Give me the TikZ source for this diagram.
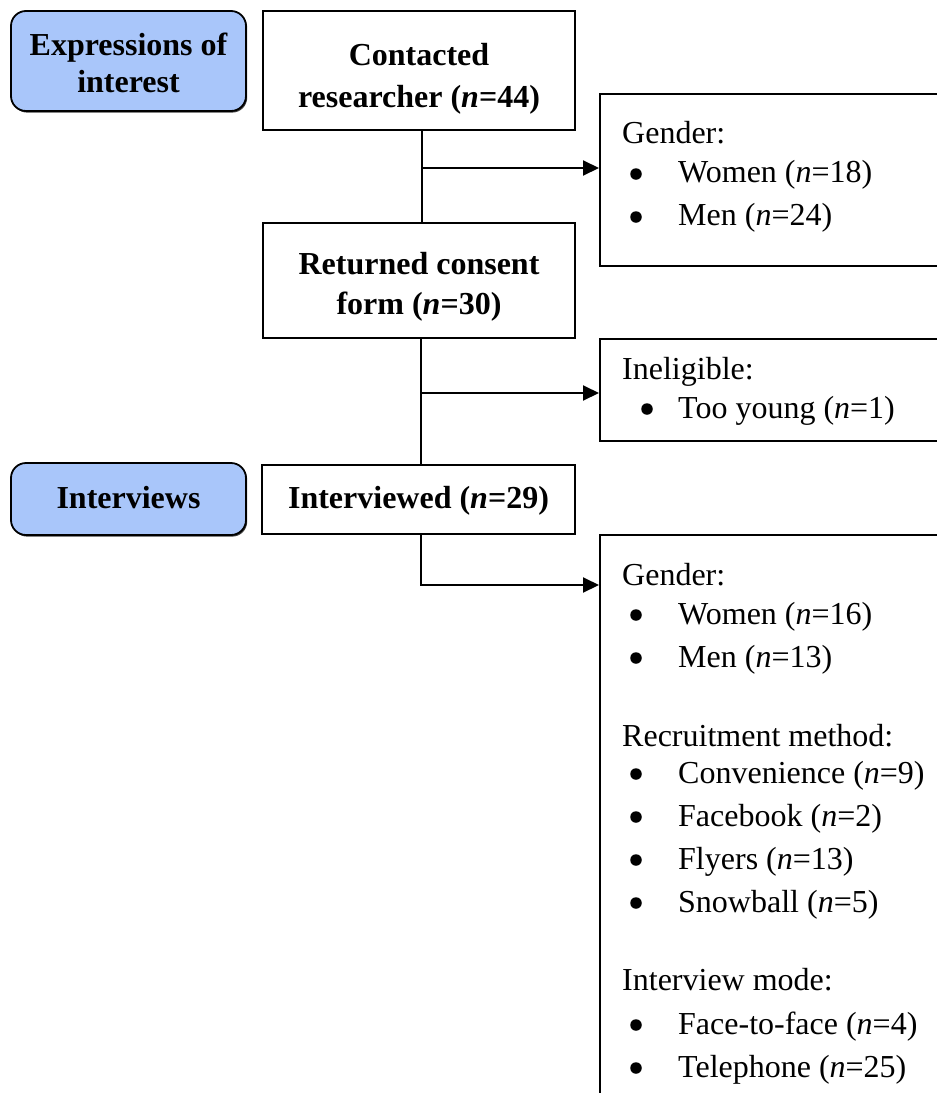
\documentclass[tikz,border=0pt]{standalone}
\usepackage{fontspec}
\setmainfont{Liberation Serif}
\usetikzlibrary{arrows.meta,shadows}
\definecolor{stageblue}{RGB}{169,198,250}
\begin{document}
\begin{tikzpicture}[x=1pt,y=-1pt,
  stage/.style={draw, line width=1.8pt, fill=stageblue, rounded corners=15pt,
    inner sep=0pt,
    general shadow={shadow xshift=1.2pt, shadow yshift=-1.6pt, fill=black!75}},
  flowbox/.style={draw, line width=1.6pt, fill=white, inner sep=0pt},
  sidebox/.style={draw, line width=1.6pt, inner sep=0pt, anchor=north west},
  boldline/.style={font=\fontsize{32}{43}\selectfont\bfseries, inner sep=0pt, anchor=base},
  link/.style={line width=1.6pt},
  feed/.style={line width=2pt, -{Triangle[length=16pt,width=15pt]}},
  bul/.style={circle, fill=black, inner sep=0pt, minimum size=11.5pt},
  lbl/.style={font=\fontsize{32}{43}\selectfont, inner sep=0pt, anchor=base west},
]
\useasboundingbox (0,0) rectangle (937,1093);
\clip (0,0) rectangle (937,1093);

% stage labels
\node[stage, minimum width=235pt, minimum height=100pt] (s1) at (128.5,61) {};
\node[boldline] (s1a) at (128.5,55) {Expressions of};
\node[boldline] (s1b) at (128.5,92) {interest};
\node[stage, minimum width=235pt, minimum height=72pt] (s2) at (128.5,499) {};
\node[boldline] (s2a) at (128.5,508) {Interviews};

% main flow
\node[flowbox, minimum width=312pt, minimum height=119pt] (contacted) at (419,70.5) {};
\node[boldline] (contacted1) at (419,65) {Contacted};
\node[boldline] (contacted2) at (419,107) {researcher (\textit{n}=44)};
\node[flowbox, minimum width=312pt, minimum height=115pt] (returned) at (419,280.5) {};
\node[boldline] (returned1) at (419,274) {Returned consent};
\node[boldline] (returned2) at (419,314) {form (\textit{n}=30)};
\node[flowbox, minimum width=313pt, minimum height=69pt] (interviewed) at (418.5,499.5) {};
\node[boldline] (interviewed1) at (418.5,508) {Interviewed (\textit{n}=29)};

% side boxes
\node[sidebox, minimum width=420pt, minimum height=172pt] (g1) at (599,93) {};
\node[sidebox, minimum width=420pt, minimum height=102pt] (g2) at (599,338) {};
\node[sidebox, minimum width=420pt, minimum height=620pt] (g3) at (599,534) {};

% first side box contents
\node[lbl] (g1h) at (622,143) {Gender:};
\node[bul] (g1b1) at (636,174) {};
\node[lbl] (g1i1) at (678,182) {Women (\textit{n}=18)};
\node[bul] (g1b2) at (636,217) {};
\node[lbl] (g1i2) at (678,225) {Men (\textit{n}=24)};

% second side box contents
\node[lbl] (g2h) at (622,379) {Ineligible:};
\node[bul] (g2b1) at (647,409) {};
\node[lbl] (g2i1) at (678,418) {Too young (\textit{n}=1)};

% third side box contents
\node[lbl] (g3h1) at (622,585) {Gender:};
\node[bul] (g3b1) at (636,615) {};
\node[lbl] (g3i1) at (678,624) {Women (\textit{n}=16)};
\node[bul] (g3b2) at (636,658) {};
\node[lbl] (g3i2) at (678,667) {Men (\textit{n}=13)};
\node[lbl] (g3h2) at (622,746) {Recruitment method:};
\node[bul] (g3b3) at (636,774) {};
\node[lbl] (g3i3) at (678,783) {Convenience (\textit{n}=9)};
\node[bul] (g3b4) at (636,817) {};
\node[lbl] (g3i4) at (678,826) {Facebook (\textit{n}=2)};
\node[bul] (g3b5) at (636,860) {};
\node[lbl] (g3i5) at (678,869) {Flyers (\textit{n}=13)};
\node[bul] (g3b6) at (636,903) {};
\node[lbl] (g3i6) at (678,912) {Snowball (\textit{n}=5)};
\node[lbl] (g3h3) at (622,990) {Interview mode:};
\node[bul] (g3b7) at (636,1025) {};
\node[lbl] (g3i7) at (678,1034) {Face-to-face (\textit{n}=4)};
\node[bul] (g3b8) at (636,1068) {};
\node[lbl] (g3i8) at (678,1077) {Telephone (\textit{n}=25)};

% connectors
\coordinate (j1) at (422,168);
\coordinate (j2) at (421,393);
\coordinate (j3) at (421,585);
\draw[link] (contacted.south -| j1) -- (returned.north -| j1);
\draw[feed] (j1) -- (j1 -| g1.west);
\draw[link] (returned.south -| j2) -- (interviewed.north -| j2);
\draw[feed] (j2) -- (j2 -| g2.west);
\draw[feed] (interviewed.south -| j3) -- (j3) -- (j3 -| g3.west);
\end{tikzpicture}
\end{document}
